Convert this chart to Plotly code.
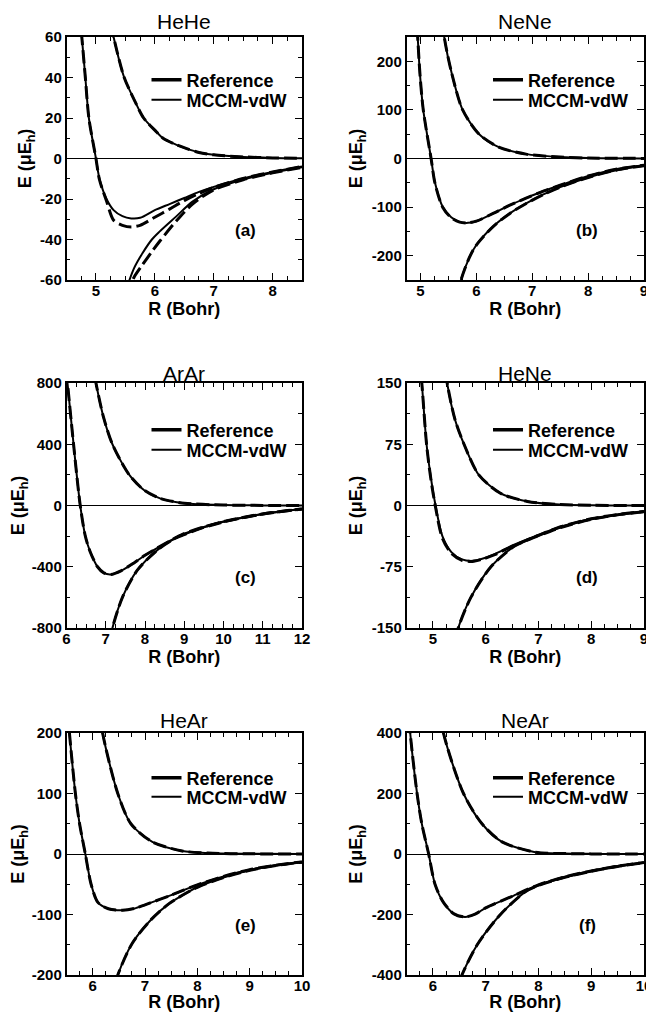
import plotly.graph_objects as go

# ------------------------------------------------------------------ data
# (a) HeHe
R_tot_HeHe = [4.70, 4.76, 4.82, 4.88, 5.00, 5.06, 5.18, 5.30, 5.45, 5.60, 5.75, 6.00, 6.25, 6.50, 6.75, 7.00, 7.50, 8.00, 8.50]
E_mccm_tot_HeHe = [80, 60, 40, 20, 0, -10, -20, -25.5, -28.5, -29.6, -29.3, -25.5, -22.5, -19.5, -16.5, -14, -9.8, -6.6, -3.9]
E_ref_tot_HeHe = [80, 60, 40, 20, 0, -10.5, -21, -30.5, -33, -33.8, -33, -29, -25, -20.8, -17.3, -14.3, -9.9, -6.7, -4]
R_disp_HeHe = [5.40, 5.54, 5.65, 5.79, 5.95, 6.08, 6.36, 6.64, 7.00, 7.50, 8.00, 8.50]
E_mccm_disp_HeHe = [-76, -62.5, -54, -46.8, -40, -36.1, -28.7, -21.3, -15.2, -10.4, -7.0, -4.3]
E_ref_disp_HeHe = [-76, -65, -58.5, -52.5, -46, -41, -31, -22.5, -15.5, -10.5, -7.1, -4.4]
R_rep_HeHe = [5.20, 5.30, 5.48, 5.65, 5.81, 6.00, 6.14, 6.35, 6.53, 6.75, 7.00, 7.50, 8.00, 8.50]
E_mccm_rep_HeHe = [75, 60, 40, 29, 20, 14, 10, 7, 5, 3, 1.8, 0.8, 0.3, 0.1]
E_ref_rep_HeHe = [75, 60, 40, 29, 20, 14, 10, 7, 5, 3, 1.8, 0.8, 0.3, 0.1]

# (b) NeNe
R_tot_NeNe = [4.88, 4.95, 4.99, 5.05, 5.19, 5.26, 5.40, 5.55, 5.70, 5.85, 6.00, 6.30, 6.60, 6.90, 7.20, 7.50, 8.00, 8.50, 9.00]
E_mccm_tot_NeNe = [380, 250, 175, 100, 0, -50, -100, -121, -130.5, -132.4, -129, -113, -96, -81, -67, -55, -36, -22, -14]
E_ref_tot_NeNe = [380, 250, 175, 100, 0, -51, -101, -122, -131, -132.4, -129, -113, -96, -81, -67, -55, -36, -22, -14]
R_disp_NeNe = [5.60, 5.72, 5.87, 6.00, 6.30, 6.60, 6.90, 7.20, 7.50, 8.00, 8.50, 9.00]
E_mccm_disp_NeNe = [-320, -252, -205, -178, -140, -113, -92, -74, -59, -39, -24, -15]
E_ref_disp_NeNe = [-320, -252, -205, -178, -140, -113, -92, -74, -59, -39, -24, -15]
R_rep_NeNe = [5.36, 5.425, 5.56, 5.755, 6.05, 6.41, 6.89, 7.50, 8.00, 9.00]
E_mccm_rep_NeNe = [320, 250, 175, 100, 50, 23, 9, 3, 1, 0.2]
E_ref_rep_NeNe = [320, 250, 175, 100, 50, 23, 9, 3, 1, 0.2]

# (c) ArAr
R_tot_ArAr = [5.95, 6.025, 6.18, 6.35, 6.48, 6.60, 6.79, 6.95, 7.13, 7.40, 7.72, 8.00, 8.49, 8.98, 9.50, 10.0, 11.0, 12.0]
E_mccm_tot_ArAr = [1000, 800, 400, 0, -200, -300, -400, -440, -450, -425, -375, -325, -252, -186, -140, -105, -55, -22]
E_ref_tot_ArAr = [1000, 800, 400, 0, -200, -300, -400, -440, -450, -425, -375, -325, -252, -186, -140, -105, -55, -22]
R_disp_ArAr = [7.00, 7.17, 7.43, 7.81, 8.32, 8.74, 9.00, 9.50, 10.0, 11.0, 12.0]
E_mccm_disp_ArAr = [-1000, -800, -597, -421, -290, -218, -190, -143, -107, -56, -23]
E_ref_disp_ArAr = [-1000, -800, -597, -421, -290, -218, -190, -143, -107, -56, -23]
R_rep_ArAr = [6.65, 6.75, 6.95, 7.17, 7.60, 7.98, 8.40, 9.00, 10.0, 11.0, 12.0]
E_mccm_rep_ArAr = [950, 800, 570, 400, 200, 100, 45, 15, 3, 0.7, 0.2]
E_ref_rep_ArAr = [950, 800, 570, 400, 200, 100, 45, 15, 3, 0.7, 0.2]

# (d) HeNe
R_tot_HeNe = [4.72, 4.79, 4.88, 4.96, 5.05, 5.18, 5.35, 5.55, 5.75, 5.95, 6.16, 6.54, 7.00, 7.42, 8.00, 8.50, 9.00]
E_mccm_tot_HeNe = [200, 150, 75, 35, 0, -37.5, -57, -66, -67.8, -65, -60, -48, -36, -26, -16.3, -11, -7.3]
E_ref_tot_HeNe = [200, 150, 75, 33, -2, -40, -58.5, -67, -68.5, -65.5, -60.5, -49, -36.5, -26, -16.3, -11, -7.3]
R_disp_HeNe = [5.35, 5.48, 5.72, 6.10, 6.54, 6.80, 7.00, 7.42, 8.00, 8.50, 9.00]
E_mccm_disp_HeNe = [-185, -150, -112.5, -75, -50, -42, -37, -27, -17, -11.5, -7.5]
E_ref_disp_HeNe = [-185, -150, -112.5, -75, -50, -42, -37, -27, -17, -11.5, -7.5]
R_rep_HeNe = [5.20, 5.27, 5.42, 5.59, 5.87, 6.28, 6.79, 7.40, 8.00, 9.00]
E_mccm_rep_HeNe = [185, 150, 105, 75, 37.5, 15, 5, 1.2, 0.3, 0.05]
E_ref_rep_HeNe = [185, 150, 105, 75, 37.5, 15, 5, 1.2, 0.3, 0.05]

# (e) HeAr
R_tot_HeAr = [5.50, 5.556, 5.67, 5.75, 5.86, 5.97, 6.10, 6.30, 6.57, 6.80, 7.00, 7.50, 8.00, 8.50, 9.00, 9.50, 10.0]
E_mccm_tot_HeAr = [260, 200, 100, 50, 0, -50, -80, -90.5, -93, -90, -84, -68, -51, -37, -26, -18.5, -13]
E_ref_tot_HeAr = [260, 200, 100, 50, 0, -50, -80, -90.5, -93, -90, -84, -68, -51, -37, -26, -18.5, -13]
R_disp_HeAr = [6.35, 6.48, 6.76, 7.11, 7.46, 7.84, 8.00, 8.50, 9.00, 9.50, 10.0]
E_mccm_disp_HeAr = [-240, -200, -147, -109, -82, -62, -55, -39, -27, -19, -13.5]
E_ref_disp_HeAr = [-240, -200, -147, -109, -82, -62, -55, -39, -27, -19, -13.5]
R_rep_HeAr = [6.10, 6.19, 6.48, 6.73, 7.14, 7.71, 8.20, 9.00, 10.0]
E_mccm_rep_HeAr = [260, 200, 100, 50, 20, 5, 1.5, 0.3, 0.05]
E_ref_rep_HeAr = [260, 200, 100, 50, 20, 5, 1.5, 0.3, 0.05]

# (f) NeAr
R_tot_NeAr = [5.50, 5.57, 5.70, 5.79, 5.92, 6.04, 6.20, 6.40, 6.61, 6.80, 7.00, 7.50, 8.00, 8.50, 9.00, 9.50, 10.0]
E_mccm_tot_NeAr = [560, 400, 200, 100, 0, -100, -160, -198, -208, -199, -178, -140, -102, -76, -56, -40, -28]
E_ref_tot_NeAr = [560, 400, 200, 100, 0, -100, -160, -198, -208, -199, -178, -140, -102, -76, -56, -40, -28]
R_disp_NeAr = [6.40, 6.55, 6.84, 7.28, 7.75, 8.00, 8.50, 9.00, 9.50, 10.0]
E_mccm_disp_NeAr = [-470, -400, -300, -200, -125, -104, -77, -57, -41, -29]
E_ref_disp_NeAr = [-470, -400, -300, -200, -125, -104, -77, -57, -41, -29]
R_rep_NeAr = [6.10, 6.20, 6.58, 6.93, 7.31, 7.94, 8.50, 9.00, 10.0]
E_mccm_rep_NeAr = [520, 400, 200, 100, 40, 6, 1.5, 0.4, 0.05]
E_ref_rep_NeAr = [520, 400, 200, 100, 40, 6, 1.5, 0.4, 0.05]

# tick labels
xt_HeHe = [5, 6, 7, 8];            xl_HeHe = ["5", "6", "7", "8"]
yt_HeHe = [-60, -40, -20, 0, 20, 40, 60]; yl_HeHe = ["-60", "-40", "-20", "0", "20", "40", "60"]
xt_NeNe = [5, 6, 7, 8, 9];         xl_NeNe = ["5", "6", "7", "8", "9"]
yt_NeNe = [-200, -100, 0, 100, 200]; yl_NeNe = ["-200", "-100", "0", "100", "200"]
xt_ArAr = [6, 7, 8, 9, 10, 11, 12]; xl_ArAr = ["6", "7", "8", "9", "10", "11", "12"]
yt_ArAr = [-800, -400, 0, 400, 800]; yl_ArAr = ["-800", "-400", "0", "400", "800"]
xt_HeNe = [5, 6, 7, 8, 9];         xl_HeNe = ["5", "6", "7", "8", "9"]
yt_HeNe = [-150, -75, 0, 75, 150]; yl_HeNe = ["-150", "-75", "0", "75", "150"]
xt_HeAr = [6, 7, 8, 9, 10];        xl_HeAr = ["6", "7", "8", "9", "10"]
yt_HeAr = [-200, -100, 0, 100, 200]; yl_HeAr = ["-200", "-100", "0", "100", "200"]
xt_NeAr = [6, 7, 8, 9, 10];        xl_NeAr = ["6", "7", "8", "9", "10"]
yt_NeAr = [-400, -200, 0, 200, 400]; yl_NeAr = ["-400", "-200", "0", "200", "400"]

titles = ["HeHe", "NeNe", "ArAr", "HeNe", "HeAr", "NeAr"]
letters = ["(a)", "(b)", "(c)", "(d)", "(e)", "(f)"]
series_names = ["Reference", "MCCM-vdW"]

# ------------------------------------------------------------------ figure
# the page puts the figure 8 px in from the top-left corner (body margin)
OFF = 8
W, H = 654 - OFF, 1012 - OFF
FONT = "Liberation Sans, Arial, Helvetica, sans-serif"
# page-pixel boxes of the plot areas
cols = [(66.5, 302.0), (406.5, 644.0)]
rows = [(37.0, 280.0), (383.0, 628.0), (733.0, 975.0)]
title_y = [22, 373, 720]
legend_text_x = [186.5, 528.0]
legend_rows = [(80, 100), (430, 450), (778, 797)]


def px(v):
    return (v - OFF) / W


def py(v):
    return 1 - (v - OFF) / H


panels = [
    dict(curves=[(R_tot_HeHe, E_ref_tot_HeHe, E_mccm_tot_HeHe), (R_disp_HeHe, E_ref_disp_HeHe, E_mccm_disp_HeHe), (R_rep_HeHe, E_ref_rep_HeHe, E_mccm_rep_HeHe)],
         xr=[4.5, 8.5], yr=[-60, 60], xt=xt_HeHe, xl=xl_HeHe, yt=yt_HeHe, yl=yl_HeHe, ym=10),
    dict(curves=[(R_tot_NeNe, E_ref_tot_NeNe, E_mccm_tot_NeNe), (R_disp_NeNe, E_ref_disp_NeNe, E_mccm_disp_NeNe), (R_rep_NeNe, E_ref_rep_NeNe, E_mccm_rep_NeNe)],
         xr=[4.75, 9], yr=[-250, 250], xt=xt_NeNe, xl=xl_NeNe, yt=yt_NeNe, yl=yl_NeNe, ym=50),
    dict(curves=[(R_tot_ArAr, E_ref_tot_ArAr, E_mccm_tot_ArAr), (R_disp_ArAr, E_ref_disp_ArAr, E_mccm_disp_ArAr), (R_rep_ArAr, E_ref_rep_ArAr, E_mccm_rep_ArAr)],
         xr=[6, 12], yr=[-800, 800], xt=xt_ArAr, xl=xl_ArAr, yt=yt_ArAr, yl=yl_ArAr, ym=200),
    dict(curves=[(R_tot_HeNe, E_ref_tot_HeNe, E_mccm_tot_HeNe), (R_disp_HeNe, E_ref_disp_HeNe, E_mccm_disp_HeNe), (R_rep_HeNe, E_ref_rep_HeNe, E_mccm_rep_HeNe)],
         xr=[4.5, 9], yr=[-150, 150], xt=xt_HeNe, xl=xl_HeNe, yt=yt_HeNe, yl=yl_HeNe, ym=37.5),
    dict(curves=[(R_tot_HeAr, E_ref_tot_HeAr, E_mccm_tot_HeAr), (R_disp_HeAr, E_ref_disp_HeAr, E_mccm_disp_HeAr), (R_rep_HeAr, E_ref_rep_HeAr, E_mccm_rep_HeAr)],
         xr=[5.5, 10], yr=[-200, 200], xt=xt_HeAr, xl=xl_HeAr, yt=yt_HeAr, yl=yl_HeAr, ym=50),
    dict(curves=[(R_tot_NeAr, E_ref_tot_NeAr, E_mccm_tot_NeAr), (R_disp_NeAr, E_ref_disp_NeAr, E_mccm_disp_NeAr), (R_rep_NeAr, E_ref_rep_NeAr, E_mccm_rep_NeAr)],
         xr=[5.5, 10], yr=[-400, 400], xt=xt_NeAr, xl=xl_NeAr, yt=yt_NeAr, yl=yl_NeAr, ym=100),
]

fig = go.Figure()
layout = dict(width=W, height=H, margin=dict(l=0, r=0, t=0, b=0, autoexpand=False),
              paper_bgcolor="white", plot_bgcolor="white",
              font=dict(family=FONT, color="black"), annotations=[])

for i, p in enumerate(panels):
    n = "" if i == 0 else str(i + 1)
    xa, ya = "x" + n, "y" + n
    for R, Eref, Emccm in p["curves"]:
        fig.add_trace(go.Scatter(x=R, y=Eref, mode="lines", xaxis=xa, yaxis=ya, showlegend=False,
                                 hoverinfo="skip",
                                 line=dict(color="black", width=3, dash="13px,5px", shape="spline", smoothing=0.8)))
        fig.add_trace(go.Scatter(x=R, y=Emccm, mode="lines", xaxis=xa, yaxis=ya, showlegend=False,
                                 hoverinfo="skip",
                                 line=dict(color="black", width=2, shape="spline", smoothing=0.8)))
    # legend entries
    lg_ref = "legend" if i == 0 else "legend%d" % (2 * i + 1)
    lg_mc = "legend%d" % (2 * i + 2)
    fig.add_trace(go.Scatter(x=[None], y=[None], mode="lines", name=series_names[0], xaxis=xa, yaxis=ya,
                             legend=lg_ref, showlegend=True, line=dict(color="black", width=3.5)))
    fig.add_trace(go.Scatter(x=[None], y=[None], mode="lines", name=series_names[1], xaxis=xa, yaxis=ya,
                             legend=lg_mc, showlegend=True, line=dict(color="black", width=2)))

    c = cols[i % 2]
    r = rows[i // 2]
    xdom = [px(c[0]), px(c[1])]
    ydom = [py(r[1]), py(r[0])]
    common = dict(showline=True, linecolor="black", linewidth=1.5, mirror="ticks",
                  ticks="inside", ticklen=7, tickwidth=1.2, tickcolor="black",
                  showgrid=False, tickmode="array", automargin=False,
                  tickfont=dict(family=FONT, size=15, color="black", weight="bold"))
    layout["xaxis" + n] = dict(common, domain=xdom, range=p["xr"], anchor=ya, zeroline=False,
                               tickvals=p["xt"], ticktext=p["xl"], ticklabelstandoff=-4,
                               minor=dict(ticks="inside", ticklen=4, tickwidth=1, tickcolor="black",
                                          dtick=0.25, tick0=0, showgrid=False),
                               title=dict(text="<b>R (Bohr)</b>", standoff=1,
                                          font=dict(family=FONT, size=18, color="black")))
    layout["yaxis" + n] = dict(common, domain=ydom, range=p["yr"], anchor=xa,
                               zeroline=True, zerolinecolor="black", zerolinewidth=1,
                               tickvals=p["yt"], ticktext=p["yl"],
                               minor=dict(ticks="inside", ticklen=4, tickwidth=1, tickcolor="black",
                                          dtick=p["ym"], tick0=0, showgrid=False),
                               title=dict(text="<b>E (μE<sub>h</sub>)</b>", standoff=4,
                                          font=dict(family=FONT, size=18, color="black")))
    # panel title
    layout["annotations"].append(dict(text=titles[i], xref="paper", yref="paper",
                                      x=px((c[0] + c[1]) / 2), y=py(title_y[i // 2]),
                                      xanchor="center", yanchor="middle", showarrow=False,
                                      font=dict(family=FONT, size=21, color="black")))
    # panel letter
    layout["annotations"].append(dict(text="<b>%s</b>" % letters[i], xref=xa + " domain", yref=ya + " domain",
                                      x=0.76, y=0.205, xanchor="center", yanchor="middle", showarrow=False,
                                      font=dict(family=FONT, size=17, color="black")))
    # legends
    tx = legend_text_x[i % 2]
    ry = legend_rows[i // 2]
    for lg, yy in ((lg_ref, ry[0]), (lg_mc, ry[1])):
        layout[lg] = dict(x=px(tx - 40), xanchor="left", y=py(yy), yanchor="middle",
                          bgcolor="rgba(0,0,0,0)", borderwidth=0, itemwidth=30,
                          font=dict(family=FONT, size=18, color="black", weight="bold"))

fig.update_layout(**layout)
fig.write_html("out.html")
